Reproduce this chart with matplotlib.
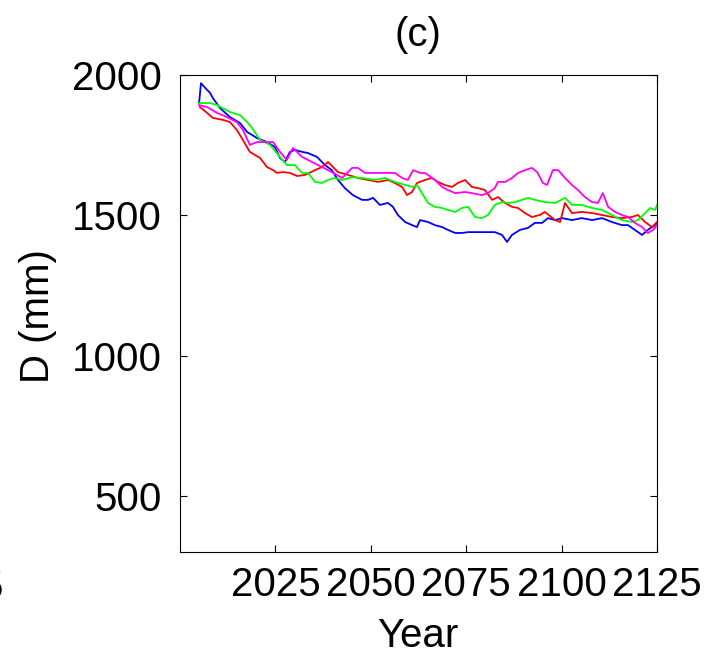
import matplotlib
matplotlib.use("Agg")
import matplotlib.pyplot as plt

plt.rcParams['font.family'] = ['Liberation Sans', 'DejaVu Sans']

# ---- data ----
blue_year = [2005.0, 2005.5, 2006.6, 2007.9, 2008.6, 2010.5, 2013.1, 2015.7, 2017.6, 2020.2,
             2022.8, 2024.9, 2026.2, 2027.5, 2028.8, 2030.1, 2032.0, 2033.5, 2035.9, 2038.0,
             2039.8, 2041.4, 2043.2, 2045.3, 2047.7, 2049.3, 2050.6, 2052.4, 2054.5, 2055.8,
             2057.1, 2059.0, 2060.8, 2062.1, 2062.9, 2065.0, 2066.8, 2068.7, 2070.2, 2072.1,
             2073.9, 2075.5, 2077.3, 2079.1, 2080.7, 2082.5, 2084.4, 2085.7, 2087.0, 2089.1,
             2091.2, 2093.0, 2094.9, 2096.4, 2098.3, 2100.1, 2102.7, 2105.3, 2108.0, 2110.6,
             2113.2, 2115.8, 2117.4, 2119.2, 2121.1, 2122.6, 2124.5, 2125.0]
blue_d = [1900, 1971, 1954, 1936, 1918, 1882, 1850, 1829, 1797, 1775,
          1761, 1743, 1704, 1690, 1726, 1733, 1726, 1722, 1708, 1679,
          1661, 1626, 1597, 1572, 1555, 1555, 1562, 1537, 1544, 1530,
          1501, 1476, 1465, 1458, 1483, 1476, 1465, 1458, 1448, 1437,
          1437, 1440, 1440, 1440, 1440, 1440, 1430, 1405, 1430, 1448,
          1455, 1473, 1473, 1490, 1483, 1490, 1483, 1490, 1483, 1490,
          1476, 1465, 1465, 1448, 1430, 1448, 1465, 1473]

red_year = [2005.2, 2007.1, 2008.6, 2011.3, 2013.1, 2014.9, 2016.2, 2018.3, 2021.0, 2022.8,
            2024.4, 2025.4, 2027.0, 2028.8, 2030.7, 2032.8, 2035.4, 2037.2, 2038.8, 2041.4,
            2044.0, 2046.6, 2049.3, 2051.9, 2054.5, 2056.3, 2058.2, 2059.5, 2060.8, 2062.1,
            2064.2, 2066.0, 2067.6, 2069.4, 2071.3, 2072.8, 2074.7, 2076.5, 2078.1, 2079.9,
            2081.8, 2083.3, 2085.2, 2087.0, 2088.6, 2090.4, 2092.2, 2094.3, 2095.6, 2098.3,
            2099.6, 2100.9, 2102.7, 2105.3, 2108.0, 2110.6, 2113.2, 2115.8, 2118.4, 2120.0,
            2121.9, 2123.7, 2125.0]
red_d = [1886, 1865, 1847, 1840, 1832, 1804, 1775, 1726, 1704, 1672,
         1661, 1651, 1654, 1651, 1640, 1644, 1661, 1672, 1690, 1654,
         1644, 1633, 1626, 1619, 1626, 1615, 1601, 1572, 1583, 1615,
         1626, 1633, 1619, 1608, 1601, 1615, 1626, 1601, 1597, 1590,
         1555, 1565, 1544, 1530, 1526, 1508, 1494, 1501, 1512, 1483,
         1476, 1544, 1508, 1512, 1508, 1501, 1494, 1490, 1494, 1501,
         1476, 1458, 1476]

green_year = [2005.0, 2007.9, 2009.7, 2013.1, 2015.7, 2017.6, 2018.9, 2021.0, 2023.6, 2026.2,
              2028.0, 2030.1, 2032.0, 2033.5, 2035.4, 2037.2, 2038.8, 2040.6, 2042.5, 2045.1,
              2047.7, 2051.1, 2053.7, 2056.3, 2059.0, 2061.1, 2062.1, 2063.4, 2065.0, 2066.8,
              2068.7, 2070.2, 2072.1, 2073.9, 2075.5, 2077.3, 2079.1, 2080.7, 2082.5, 2084.4,
              2086.0, 2087.8, 2089.6, 2091.2, 2093.0, 2095.6, 2098.3, 2100.9, 2102.7, 2105.3,
              2108.0, 2110.6, 2113.2, 2115.8, 2118.4, 2120.0, 2121.9, 2123.2, 2124.5, 2125.0]
green_d = [1900, 1900, 1893, 1868, 1857, 1832, 1811, 1768, 1751, 1708,
           1679, 1679, 1651, 1651, 1619, 1615, 1626, 1633, 1626, 1636,
           1633, 1626, 1633, 1619, 1608, 1601, 1608, 1579, 1544, 1530,
           1526, 1519, 1512, 1526, 1530, 1494, 1490, 1501, 1537, 1547,
           1544, 1547, 1555, 1562, 1555, 1547, 1544, 1562, 1537, 1537,
           1526, 1519, 1501, 1483, 1476, 1483, 1508, 1526, 1519, 1537]

magenta_year = [2005.0, 2007.1, 2009.7, 2012.3, 2014.9, 2016.5, 2018.3, 2020.2, 2022.8, 2024.4,
                2026.2, 2028.0, 2029.6, 2032.0, 2034.6, 2037.2, 2039.8, 2042.5, 2045.1, 2046.6,
                2048.5, 2051.1, 2053.7, 2056.3, 2058.2, 2059.7, 2061.1, 2062.9, 2064.2, 2066.8,
                2068.7, 2070.2, 2072.1, 2074.7, 2076.5, 2079.1, 2080.7, 2082.5, 2083.3, 2085.2,
                2087.0, 2088.6, 2090.4, 2092.2, 2093.6, 2095.1, 2096.2, 2097.7, 2099.1, 2100.9,
                2102.7, 2104.3, 2106.1, 2108.0, 2109.5, 2110.8, 2112.2, 2114.0, 2115.8, 2117.4,
                2119.2, 2121.1, 2122.6, 2124.0, 2125.0]
magenta_d = [1893, 1886, 1865, 1850, 1832, 1804, 1751, 1761, 1761, 1761,
             1726, 1697, 1740, 1708, 1690, 1672, 1654, 1633, 1669, 1669,
             1651, 1651, 1651, 1651, 1633, 1626, 1661, 1651, 1651, 1626,
             1601, 1590, 1579, 1583, 1579, 1572, 1579, 1597, 1619, 1619,
             1633, 1651, 1661, 1669, 1654, 1615, 1608, 1661, 1661, 1633,
             1608, 1590, 1565, 1547, 1544, 1579, 1530, 1512, 1501, 1494,
             1473, 1458, 1437, 1448, 1465]

x_ticks = [2025, 2050, 2075, 2100, 2125]
y_ticks = [500, 1000, 1500, 2000]

# ---- figure ----
fig = plt.figure(figsize=(7.07, 6.57), dpi=100)
ax = fig.add_axes([180/707, 1-552/657, 477/707, 477/657])

lw = 1.3
ax.plot(blue_year, blue_d, color=(0, 0, 1), lw=lw)
ax.plot(red_year, red_d, color=(1, 0, 0), lw=lw)
ax.plot(green_year, green_d, color=(0, 1, 0), lw=lw)
ax.plot(magenta_year, magenta_d, color=(1, 0, 1), lw=lw)

ax.set_xlim(2000, 2125)
ax.set_ylim(300, 2000)
ax.set_xticks(x_ticks)
ax.set_yticks(y_ticks)
ax.tick_params(direction='in', top=True, right=True, length=5, width=0.8,
               labelsize=29, pad=10)
ax.tick_params(axis='y', pad=13)
for s in ax.spines.values():
    s.set_linewidth(0.8)

fig.text(418/707, 1-35/657, '(c)', ha='center', va='center', fontsize=29)
fig.text(418/707, 1-636/657, 'Year', ha='center', va='center', fontsize=29)
fig.text(38/707, 1-316/657, 'D (mm)', ha='center', va='center', rotation=90, fontsize=29)
fig.text(3/707, 1-588/657, '5', ha='right', va='center', fontsize=29)

fig.savefig('out.png', dpi=100)
